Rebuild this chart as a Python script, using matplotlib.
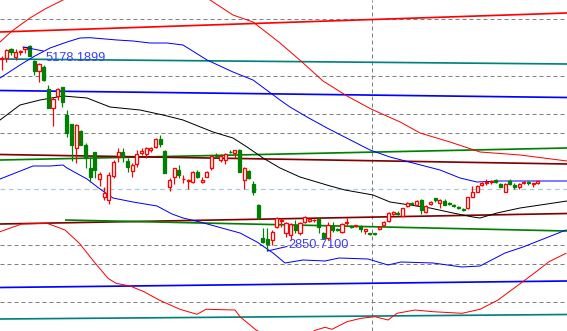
import matplotlib
matplotlib.use("Agg")
import matplotlib.pyplot as plt
import numpy as np

# ---------------- candle data (bar index 0..115) ----------------
opens = [5025.3, 5040.0, 5138.5, 5051.3, 5101.2, 5138.5, 5172.5, 5002.6, 4892.7, 4938.1,
         4685.5, 4473.7, 4609.6, 4704.7, 4391.0, 4285.7, 4013.9, 4209.8, 4051.2, 3787.3,
         3968.6, 3662.7, 3465.7, 3428.3, 3703.5, 3930.0, 3968.6, 3870.0, 3756.8, 3832.6,
         3957.2, 3945.9, 3994.6, 4025.2, 4115.8, 3983.3, 3578.9, 3692.2, 3768.1, 3660.5,
         3643.5, 3628.8, 3748.8, 3628.8, 3692.2, 3787.3, 3932.3, 3881.3, 3881.3, 3972.0,
         3957.2, 3994.6, 3654.8, 3756.8, 3609.5, 3371.7, 2997.9, 2986.6, 2975.3, 3125.9,
         3190.5, 3051.1, 3031.9, 3145.2, 3058.0, 3182.5, 3190.5, 3198.4, 3209.7, 3051.1,
         2994.5, 3133.8, 3096.4, 3069.3, 3164.4, 3133.8, 3133.8, 3125.9, 3073.8, 3051.1,
         3051.1, 3099.8, 3145.2, 3193.9, 3269.7, 3284.5, 3250.5, 3360.3, 3397.7, 3371.7,
         3428.3, 3295.8, 3383.0, 3447.5, 3390.9, 3420.4, 3390.9, 3371.7, 3345.6, 3323.1,
         3334.3, 3465.7, 3522.3, 3598.2, 3617.5, 3628.8, 3654.8, 3606.1, 3522.3, 3643.5,
         3598.2, 3578.9, 3624.3, 3635.6, 3609.5, 3617.5]
highs = [5059.2, 5138.5, 5146.5, 5138.5, 5127.2, 5164.6, 5178.2, 5014.0, 4976.6, 4957.3,
         4730.8, 4598.3, 4693.4, 4711.5, 4447.6, 4289.1, 4285.7, 4221.1, 4070.5, 3900.6,
         3975.4, 3748.8, 3578.9, 3748.8, 3881.3, 4013.9, 4013.9, 3900.6, 3844.0, 3994.6,
         4013.9, 4032.0, 4032.0, 4127.1, 4164.5, 3994.6, 3680.9, 3794.1, 3824.7, 3711.4,
         3666.1, 3756.8, 3764.7, 3692.2, 3756.8, 3938.0, 3957.2, 3945.9, 3957.2, 3994.6,
         3994.6, 4000.3, 3805.4, 3768.1, 3643.5, 3383.0, 3111.2, 3111.2, 3088.5, 3239.2,
         3221.0, 3182.5, 3171.2, 3201.8, 3182.5, 3247.1, 3221.0, 3213.1, 3221.0, 3069.3,
         3182.5, 3182.5, 3107.8, 3171.2, 3221.0, 3145.2, 3148.6, 3145.2, 3099.8, 3058.0,
         3058.0, 3133.8, 3193.9, 3295.8, 3303.7, 3303.7, 3341.1, 3402.2, 3409.1, 3428.3,
         3436.2, 3371.7, 3420.4, 3454.4, 3436.2, 3436.2, 3402.2, 3383.0, 3360.3, 3334.3,
         3465.7, 3586.9, 3598.2, 3628.8, 3662.7, 3654.8, 3662.7, 3617.5, 3617.5, 3666.1,
         3617.5, 3617.5, 3643.5, 3643.5, 3617.5, 3647.0]
lows = [4900.7, 4994.7, 5070.6, 5013.9, 5070.6, 5089.8, 5059.2, 4844.1, 4768.2, 4776.1,
        4470.3, 4269.8, 4560.9, 4485.0, 4145.2, 3870.0, 3850.8, 4051.2, 3787.3, 3635.6,
        3674.1, 3590.3, 3428.3, 3379.5, 3680.9, 3862.1, 3862.1, 3748.8, 3692.2, 3805.4,
        3938.0, 3907.4, 3975.4, 4013.9, 4032.0, 3730.7, 3533.6, 3609.5, 3674.1, 3624.3,
        3552.9, 3617.5, 3680.9, 3617.5, 3688.8, 3768.1, 3900.6, 3862.1, 3832.6, 3957.2,
        3900.6, 3748.8, 3552.9, 3666.1, 3485.0, 3213.1, 2941.3, 2850.7, 2918.6, 3107.8,
        3125.9, 3012.6, 2975.3, 3051.1, 3031.9, 3164.4, 3179.1, 3179.1, 3051.1, 2983.2,
        2975.3, 3069.3, 3077.2, 3058.0, 3145.2, 3107.8, 3125.9, 3069.3, 3043.2, 3031.9,
        3035.3, 3088.5, 3133.8, 3182.5, 3258.4, 3258.4, 3247.1, 3345.6, 3371.7, 3363.8,
        3269.7, 3284.5, 3371.7, 3402.2, 3334.3, 3371.7, 3371.7, 3352.4, 3323.1, 3303.7,
        3326.4, 3458.8, 3515.5, 3586.9, 3598.2, 3606.1, 3617.5, 3572.2, 3515.5, 3598.2,
        3549.5, 3552.9, 3609.5, 3598.2, 3572.2, 3609.5]
closes = [5036.6, 5127.2, 5108.0, 5101.2, 5115.9, 5157.8, 5062.6, 4889.4, 4968.6, 4787.4,
          4473.7, 4572.2, 4685.5, 4541.7, 4183.8, 4051.2, 4277.8, 4051.2, 3900.6, 3692.2,
          3768.1, 3719.4, 3504.2, 3711.4, 3862.1, 3968.6, 3930.0, 3805.4, 3824.7, 3945.9,
          3983.3, 4013.9, 4013.9, 4115.8, 4059.1, 3730.7, 3651.4, 3787.3, 3711.4, 3666.1,
          3649.1, 3748.8, 3692.2, 3654.8, 3748.8, 3930.0, 3926.6, 3930.0, 3949.3, 3966.4,
          3994.6, 3748.8, 3787.3, 3674.1, 3515.5, 3224.4, 2952.6, 2929.9, 3069.3, 3221.0,
          3201.8, 3164.4, 3153.1, 3088.5, 3164.4, 3239.2, 3209.7, 3201.8, 3119.1, 2994.5,
          3145.2, 3088.5, 3088.5, 3156.5, 3175.7, 3119.1, 3145.2, 3096.4, 3096.4, 3039.8,
          3043.2, 3122.5, 3182.5, 3277.7, 3295.8, 3269.7, 3334.3, 3390.9, 3383.0, 3417.0,
          3315.0, 3360.3, 3409.1, 3428.3, 3428.3, 3371.7, 3383.0, 3363.8, 3334.3, 3315.0,
          3458.8, 3522.3, 3586.9, 3624.3, 3635.6, 3643.5, 3635.6, 3578.9, 3606.1, 3606.1,
          3572.2, 3609.5, 3635.6, 3617.5, 3615.2, 3643.5]

# ---------------- indicator curves (bar position, price) ----------------
upper_red_x = [-0.36, 2.21, 6.07, 9.29, 13.15, 21.09, 31.82, 40.40, 44.69, 49.62, 53.92,
               59.71, 64.43, 68.93, 74.08, 79.23, 85.49, 89.75, 96.18, 102.62, 111.20, 121.28]
upper_red_y = [5217.8, 5342.4, 5489.6, 5591.6, 5693.5, 5976.7, 6089.9, 5863.4, 5693.5, 5523.6,
               5444.3, 5206.5, 4991.3, 4776.1, 4606.2, 4459.0, 4311.7, 4187.1, 4085.2, 3972.0,
               3938.0, 3870.0]
lower_red_x = [-0.36, 4.29, 9.72, 13.58, 16.67, 19.80, 22.81, 24.52, 27.53, 30.53, 33.75,
               38.25, 41.90, 43.83, 50.05, 51.13, 54.56, 60.78, 67.43, 69.36, 70.87, 74.08,
               77.09, 80.09, 82.88, 84.81, 88.67, 92.53, 98.76, 102.62, 106.48, 110.34,
               114.21, 117.43, 121.07]
lower_red_y = [3069.3, 3156.5, 3164.4, 3088.5, 2937.8, 2729.5, 2541.4, 2484.8, 2454.3, 2389.7,
               2295.7, 2190.4, 2133.7, 2190.4, 2182.4, 2106.6, 1955.9, 1786.0, 1955.9, 1986.5,
               1963.8, 2050.0, 2088.4, 2106.6, 2069.2, 2145.0, 2182.4, 2163.2, 2145.0, 2190.4,
               2295.7, 2446.4, 2598.1, 2729.5, 2824.6]
upper_blue_x = [-0.36, 3.93, 6.72, 10.36, 14.01, 16.80, 18.94, 24.74, 28.17, 31.82, 35.46,
                38.90, 44.05, 49.62, 53.92, 59.71, 61.85, 65.50, 69.79, 79.02, 83.31, 88.24,
                94.04, 98.33, 101.97, 106.91, 121.28]
upper_blue_y = [4810.1, 4957.3, 5047.9, 5149.9, 5217.8, 5263.1, 5266.5, 5240.5, 5229.1, 5206.5,
                5206.5, 5183.8, 5013.9, 4878.0, 4787.4, 4560.9, 4481.6, 4368.4, 4243.8, 3994.6,
                3915.3, 3847.4, 3768.1, 3677.5, 3632.2, 3643.5, 3643.5]
lower_blue_x = [-0.36, 6.72, 10.36, 13.15, 14.01, 18.30, 21.09, 23.88, 28.17, 33.32, 36.54,
                38.90, 42.55, 51.13, 54.77, 58.21, 60.78, 64.64, 69.36, 72.37, 78.59, 82.88,
                85.67, 92.53, 98.76, 102.62, 107.98, 111.85, 121.07]
lower_blue_y = [3666.1, 3813.4, 3813.4, 3824.7, 3790.7, 3666.1, 3552.9, 3450.9, 3405.6, 3360.3,
                3269.7, 3224.4, 3179.1, 3054.5, 2952.6, 2828.0, 2714.8, 2748.7, 2737.4, 2771.4,
                2760.1, 2692.1, 2726.1, 2714.8, 2669.5, 2680.8, 2828.0, 2895.9, 3088.5]
ma_x = [-0.36, 3.93, 8.22, 13.15, 18.30, 23.23, 29.67, 34.61, 38.90, 45.33, 49.62, 52.63,
        56.06, 59.71, 64.00, 70.44, 73.65, 79.66, 83.31, 87.60, 91.89, 96.82, 101.12, 102.62,
        106.27, 111.20, 117.00, 121.28]
ma_y = [4334.4, 4504.3, 4560.9, 4606.2, 4583.6, 4481.6, 4447.6, 4391.0, 4334.4, 4198.5,
        4130.5, 4028.6, 3904.0, 3790.7, 3688.8, 3587.3, 3541.6, 3485.0, 3405.6, 3371.7,
        3337.7, 3281.1, 3235.8, 3224.4, 3281.1, 3337.7, 3383.0, 3417.0]

# ---------------- chart objects: trendlines (x0, y0, x1, y1, colour) ----------------
trend_lines = [
    (-0.36, 5331.1, 121.28, 5546.3, "#ff0000"),
    (-0.36, 5025.3, 121.28, 4968.6, "#008080"),
    (-0.36, 4668.5, 121.28, 4589.2, "#0000ff"),
    (-0.36, 3881.3, 121.28, 4017.3, "#008000"),
    (-0.36, 3943.6, 121.28, 3836.0, "#800000"),
    (-0.36, 3156.5, 121.28, 3275.4, "#800000"),
    (13.58, 3201.8, 121.28, 3077.2, "#008000"),
    (-0.36, 2437.3, 121.28, 2510.9, "#0000ff"),
    (-0.36, 2080.5, 121.28, 2131.5, "#008080"),
]
grid_levels = [5478.3, 4832.7, 4402.3, 4187.1, 2918.6, 2703.4, 2273.0]
light_level = 3552.9
vline_bar = 79.35

high_label = "5178.1899"
low_label = "2850.7100"
high_value = 5178.19
low_value = 2850.71

# ---------------- drawing ----------------
fig = plt.figure(figsize=(5.67, 3.31), dpi=100)
ax = fig.add_axes([0, 0, 1, 1])
ax.set_xlim(-0.365, 121.28)
ax.set_ylim(1944.6, 5693.5)
ax.axis("off")
fig.patch.set_facecolor("white")

px = 0.72  # one pixel in points
for lv in grid_levels:
    ax.axhline(lv, color="#808080", lw=px, ls=(0, (4, 3)), zorder=1)
ax.axhline(light_level, color="#a8c8e8", lw=px * 1.2, ls=(0, (4, 3)), zorder=1)
ax.axvline(vline_bar, color="#808080", lw=px, ls=(0, (4, 3)), zorder=1)

for x0, y0, x1, y1, c in trend_lines:
    ax.plot([x0, x1], [y0, y1], color=c, lw=1.7 * px, zorder=2, solid_capstyle="butt")

for xs, ys, c in [(upper_red_x, upper_red_y, "#ff0000"),
                  (lower_red_x, lower_red_y, "#ff0000"),
                  (upper_blue_x, upper_blue_y, "#0000ff"),
                  (lower_blue_x, lower_blue_y, "#0000ff"),
                  (ma_x, ma_y, "#000000")]:
    ax.plot(xs, ys, color=c, lw=px, zorder=3)

idx = np.arange(len(opens))
o = np.array(opens); h = np.array(highs); l = np.array(lows); c = np.array(closes)
up = c >= o
cols = np.where(up, "#ff0000", "#008000")
ax.vlines(idx, l, h, colors=cols, lw=px * 1.2, zorder=4)
bottom = np.minimum(o, c)
height = np.maximum(np.abs(c - o), 6)
ax.bar(idx[up], height[up], bottom=bottom[up], width=0.66,
       facecolor="white", edgecolor="#ff0000", linewidth=px * 1.3, zorder=5)
ax.bar(idx[~up], height[~up], bottom=bottom[~up], width=0.66,
       facecolor="#008000", edgecolor="#008000", linewidth=px * 1.3, zorder=5)

# high / low labels with leader lines
ilo = int(np.argmin(l))
ax.plot([4.6, 8.9], [5161.2, 5115.9], color="#0000ff", lw=px, zorder=6)
ax.text(9.3, 5036.6, high_label, color="#3c3cff", fontsize=9.2, family="Liberation Sans",
        va="center", ha="left", zorder=7)
ax.plot([ilo, 61.2], [low_value, 2901.6], color="#0000ff", lw=px, zorder=6)
ax.text(61.4, 2918.6, low_label, color="#3c3cff", fontsize=9.2, family="Liberation Sans",
        va="center", ha="left", zorder=7)

fig.savefig("out.png", dpi=100, facecolor="white")
